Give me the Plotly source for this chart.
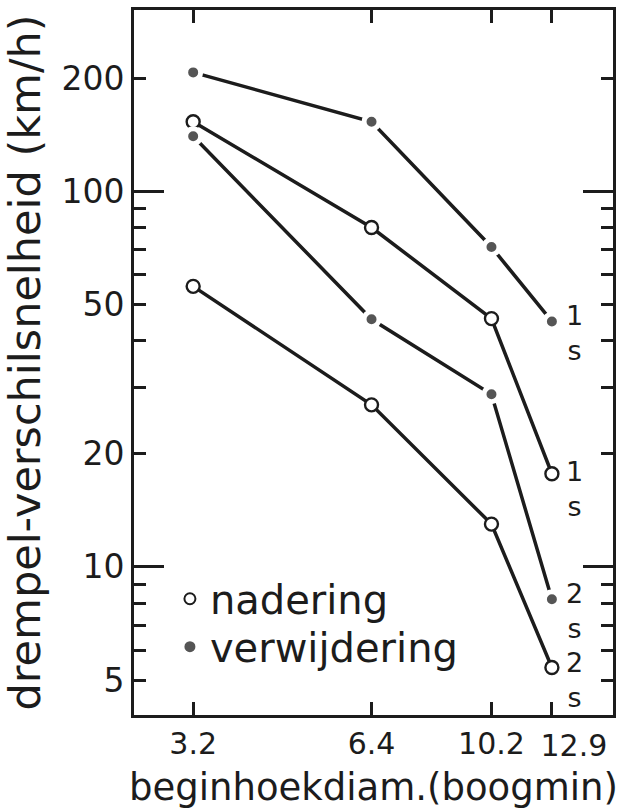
import plotly.graph_objects as go
import math

# ---- data ----
x_diam = [3.2, 6.4, 10.2, 12.9]
x_ticktext = ["3.2", "6.4", "10.2", "12.9"]

verw_1s = [207, 153, 71, 45]      # filled, 1 s
nad_1s = [153, 80, 45.8, 17.7]    # open, 1 s
verw_2s = [140, 45.6, 28.8, 8.2]  # filled, 2 s
nad_2s = [55.8, 27, 13.0, 5.4]    # open, 2 s

y_tickvals = [5, 10, 20, 50, 100, 200]
y_ticktext = ["5", "10", "20", "50", "100", "200"]
y_minor = [6, 7, 8, 9, 30, 40, 60, 70, 80, 90]
y_long = [10, 100]

label_text = ["1", "1", "2", "2"]
label_series = [verw_1s, nad_1s, verw_2s, nad_2s]
label_lift = [6, 2, 6, 5]   # pixel lift of the numeral relative to the end point

FONT = "DejaVu Sans"
INK = "#1c1c1c"

fig = go.Figure()

filled = dict(symbol="circle", size=15, color="#555555",
              line=dict(color="white", width=5))
opened = dict(symbol="circle", size=13, color="white",
              line=dict(color=INK, width=2.4))

for ys, mk in [(verw_1s, filled), (nad_1s, opened), (verw_2s, filled), (nad_2s, opened)]:
    fig.add_trace(go.Scatter(x=x_diam, y=ys, mode="lines+markers",
                             line=dict(color=INK, width=3.5),
                             marker=mk, showlegend=False, hoverinfo="skip"))

# legend-only traces (one per legend box, so rows can be placed freely)
fig.add_trace(go.Scatter(x=[None], y=[None], mode="markers", name="nadering",
                         legend="legend",
                         marker=dict(symbol="circle", size=11, color="white",
                                     line=dict(color=INK, width=2))))
fig.add_trace(go.Scatter(x=[None], y=[None], mode="markers", name="verwijdering",
                         legend="legend2",
                         marker=dict(symbol="circle", size=11, color="#555555")))

# dummy traces carrying the overlay axes
fig.add_trace(go.Scatter(x=[None], y=[None], yaxis="y2", showlegend=False,
                         hoverinfo="skip"))
fig.add_trace(go.Scatter(x=[None], y=[None], xaxis="x2", showlegend=False,
                         hoverinfo="skip"))

# series end labels
LS = 27
for num, ys, lift in zip(label_text, label_series, label_lift):
    fig.add_annotation(x=math.log10(x_diam[-1]), y=math.log10(ys[-1]),
                       text=num + "<br>s", yanchor="middle",
                       showarrow=False, xshift=23, yshift=lift - LS * 0.65,
                       font=dict(family=FONT, size=LS, color=INK))

yrange = [0.606, 2.482]
xrange = [0.4053, 1.2137]

common_x = dict(type="log", range=xrange, automargin=False, tickangle=0,
                tickmode="array", ticks="inside", ticklen=13, tickwidth=3,
                tickcolor=INK, showgrid=False, zeroline=False,
                tickfont=dict(family=FONT, size=30, color=INK))

legend_common = dict(xanchor="left", yanchor="top", bgcolor="rgba(0,0,0,0)",
                     font=dict(family=FONT, size=40, color=INK))

fig.update_layout(
    width=635, height=811,
    margin=dict(l=134, r=22, t=10, b=96),
    paper_bgcolor="white", plot_bgcolor="white",
    font=dict(family=FONT, color=INK),
    showlegend=True,
    legend=dict(x=0.075, y=0.211, **legend_common),
    legend2=dict(x=0.075, y=0.143, **legend_common),
    xaxis=dict(**common_x, tickvals=x_diam[:3], ticktext=x_ticktext[:3],
               showline=True, linewidth=3, linecolor=INK, mirror="ticks",
               title=dict(text="beginhoekdiam.(boogmin)", standoff=15,
                          font=dict(family=FONT, size=37, color=INK))),
    xaxis2=dict(**common_x, tickvals=x_diam[3:], ticktext=x_ticktext[3:],
                overlaying="x", anchor="y", side="bottom", ticklabelshift=22,
                ticklabelstandoff=10, showline=False, mirror="ticks"),
    yaxis=dict(type="log", range=yrange, automargin=False,
               tickmode="array", tickvals=y_tickvals, ticktext=y_ticktext,
               ticks="inside", ticklen=12, tickwidth=3, tickcolor=INK,
               minor=dict(tickmode="array", tickvals=y_minor, ticks="inside",
                          ticklen=12, tickwidth=3, tickcolor=INK, showgrid=False),
               showline=True, linewidth=3, linecolor=INK, mirror="ticks",
               showgrid=False, zeroline=False,
               tickfont=dict(family=FONT, size=33, color=INK),
               title=dict(text="drempel-verschilsnelheid (km/h)", standoff=8,
                          font=dict(family=FONT, size=43, color=INK))),
    yaxis2=dict(type="log", range=yrange, overlaying="y", side="left",
                tickmode="array", tickvals=y_long, ticks="inside", ticklen=30,
                tickwidth=3, tickcolor=INK, showticklabels=False, automargin=False,
                showline=False, mirror="ticks", showgrid=False, zeroline=False),
)

fig.write_html("out.html")
